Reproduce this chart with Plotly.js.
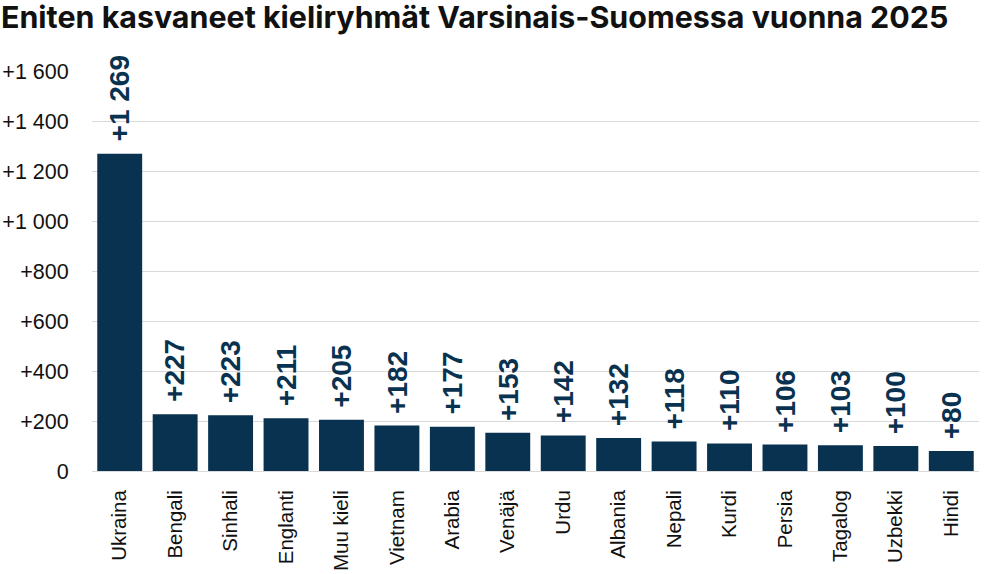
<!DOCTYPE html>
<html><head><meta charset="utf-8">
<script src="https://cdn.plot.ly/plotly-3.0.1.min.js"></script>
<style>html,body{margin:0;padding:0;background:#fff;}#chart{width:988px;height:574px;}</style>
</head><body><div id="chart"></div>
<script>
const categories = ["Ukraina","Bengali","Sinhali","Englanti","Muu kieli","Vietnam","Arabia","Venäjä","Urdu","Albania","Nepali","Kurdi","Persia","Tagalog","Uzbekki","Hindi"];
const values = [1269,227,223,211,205,182,177,153,142,132,118,110,106,103,100,80];
const tickVals = [0,200,400,600,800,1000,1200,1400,1600];
const tickText = ["0","+200","+400","+600","+800","+1 000","+1 200","+1 400","+1 600"];
const labels = values.map(v => "+" + String(v).replace(/\B(?=(\d{3})+(?!\d))/g, " "));
const navy = "#08324f";
const annotations = categories.map((c, i) => ({
  x: c, y: values[i], xref: "x", yref: "y", text: "<b>" + labels[i] + "</b>",
  textangle: -90, showarrow: false, xanchor: "center", yanchor: "bottom", yshift: 10,
  font: {family: "Liberation Sans, Arial, sans-serif", size: 28, color: navy}
}));
Plotly.newPlot("chart", [{
  type: "bar", x: categories, y: values,
  marker: {color: navy},
  cliponaxis: false, hoverinfo: "none"
}], {
  width: 988, height: 574,
  margin: {l: 92, r: 9, t: 71, b: 103},
  paper_bgcolor: "#fff", plot_bgcolor: "#fff",
  annotations: annotations,
  title: {text: "<b>Eniten kasvaneet kieliryhmät Varsinais-Suomessa vuonna 2025</b>", x: 0.001, xanchor: "left", y: 0.97, yanchor: "middle",
    font: {family: "Inter, sans-serif", size: 30.4, color: "#111"}},
  bargap: 0.19,
  xaxis: {tickangle: -90, tickfont: {family: "Liberation Sans, Arial, sans-serif", size: 20.5, color: "#111"}, showline: false,
    ticks: "outside", ticklen: 10, tickcolor: "rgba(0,0,0,0)"},
  yaxis: {range: [0, 1600], tickvals: tickVals, ticktext: tickText, gridcolor: "#d9d9d9", gridwidth: 1,
    zeroline: true, zerolinecolor: "#d9d9d9", zerolinewidth: 1,
    tickfont: {family: "Liberation Sans, Arial, sans-serif", size: 21.5, color: "#111"},
    ticks: "outside", ticklen: 18, tickcolor: "rgba(0,0,0,0)"},
  showlegend: false
}, {staticPlot: true});
</script></body></html>
